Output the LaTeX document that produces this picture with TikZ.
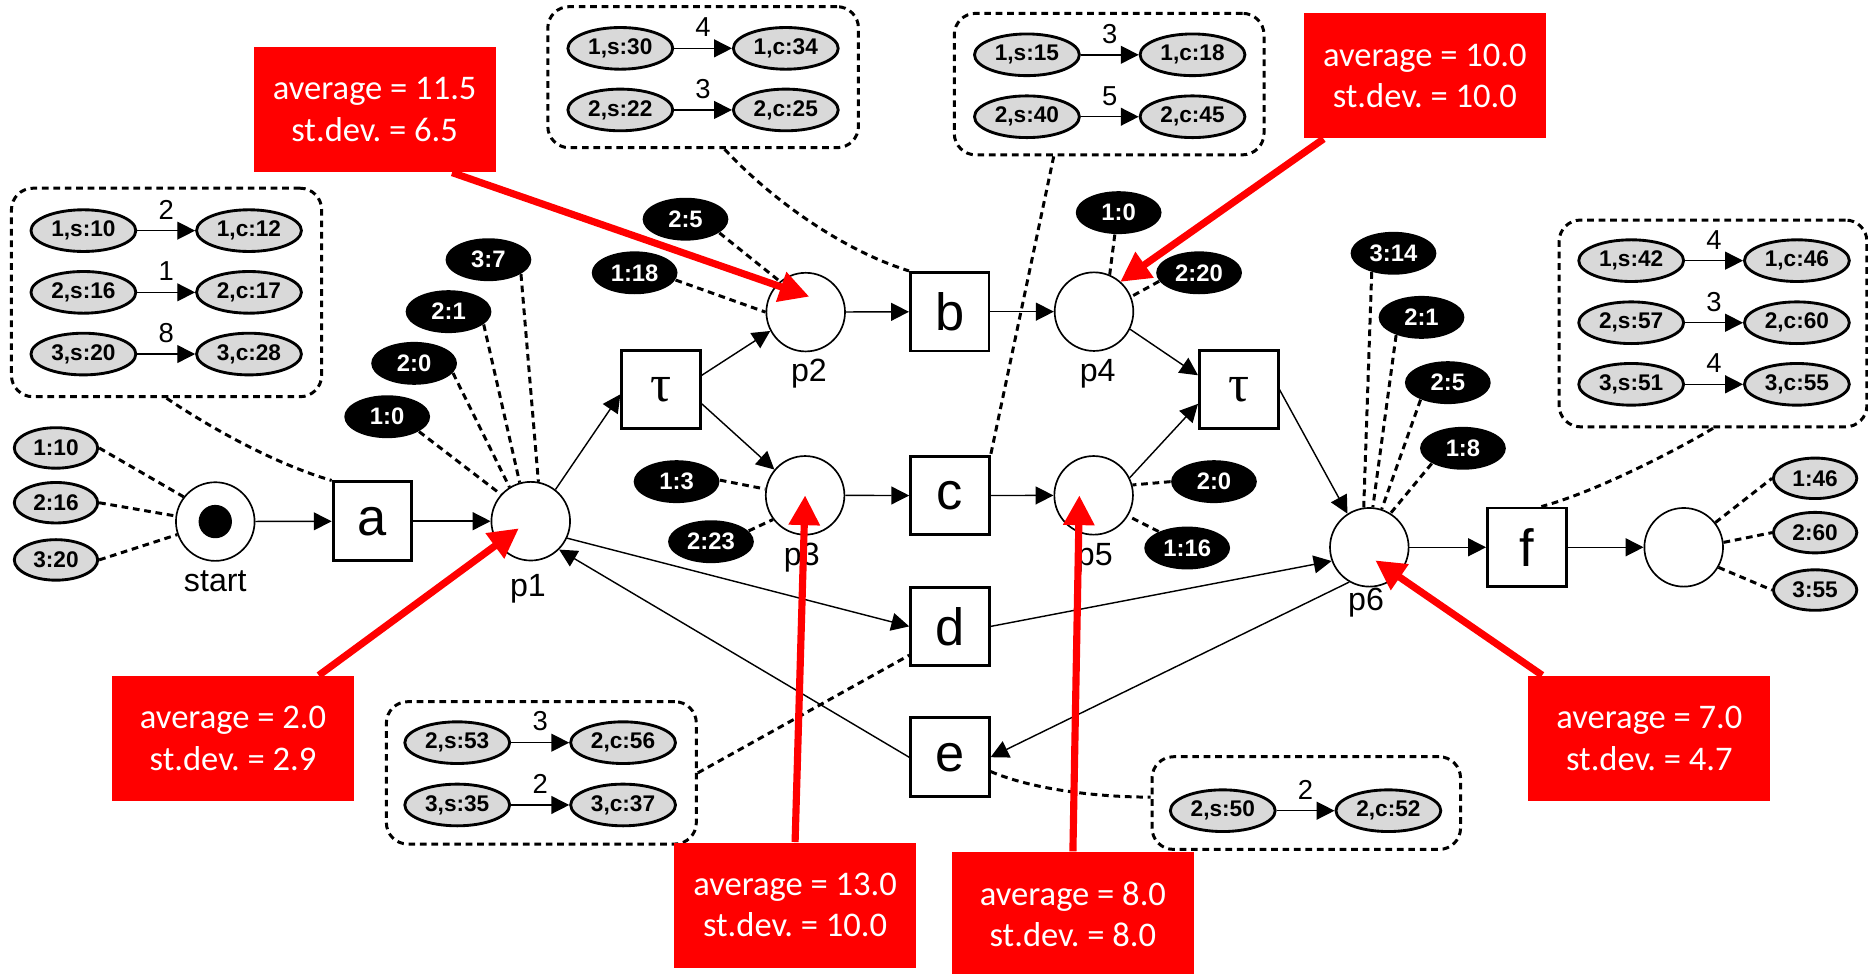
\documentclass[tikz,border=0pt]{standalone}
\usepackage{fontspec}
\setmainfont{Liberation Sans}
\newfontfamily\calibfont{Carlito}
\newfontfamily\greekfont{Liberation Serif}
\usetikzlibrary{arrows.meta, calc, shapes.geometric}

\tikzset{
  pnplace/.style={circle, draw, line width=0.7pt, minimum size=33pt, inner sep=0pt},
  pntrans/.style={rectangle, draw, line width=1.2pt, minimum size=33pt, inner sep=0pt, font=\fontsize{22}{22}\selectfont},
  plabel/.style={inner sep=0pt, font=\fontsize{13.5}{13.5}\selectfont},
  btok/.style={ellipse, fill=black, text=white, minimum width=36pt, minimum height=18pt, inner sep=0pt, font=\bfseries\fontsize{10}{10}\selectfont},
  gtok/.style={ellipse, draw, line width=1.2pt, fill=black!15, minimum width=35pt, minimum height=17pt, inner sep=0pt, font=\bfseries\fontsize{9.5}{9.5}\selectfont},
  evt/.style={gtok, minimum width=44pt, minimum height=17.5pt},
  grp/.style={draw, rounded corners=9pt, line width=1.25pt, dash pattern=on 2.8pt off 2pt},
  tline/.style={line width=1.25pt, dash pattern=on 2.8pt off 2pt},
  flowarc/.style={-{Triangle[length=7.5pt,width=7.5pt]}, line width=0.6pt},
  wlabel/.style={midway, above=4.5pt, inner sep=0pt, font=\fontsize{11.5}{11.5}\selectfont},
  stat/.style={fill=red, text=white, align=center, minimum width=101.5pt, minimum height=52.5pt, inner sep=0pt, font=\calibfont\frenchspacing\fontsize{14.5}{17.5}\selectfont},
  hint/.style={-{Triangle[length=12.5pt,width=12.5pt]}, draw=red, line width=3pt}
}

\begin{document}
\begin{tikzpicture}[x=0.5pt, y=-0.5pt]
  \useasboundingbox (0,0) rectangle (1568,817);
  % Places and transitions
  \node[pnplace] (start) at (180.7,437.8) {};
  \node[circle, fill=black, minimum size=14pt, inner sep=0pt] (startdot) at (start) {};
  \node[pntrans] (a) at (312.6,437.5) {a};
  \node[pnplace] (p1) at (445.5,437.5) {};
  \node[pntrans, font=\greekfont\fontsize{22}{22}\selectfont] (tau1) at (554.9,327) {τ};
  \node[pnplace] (p2) at (676.3,262) {};
  \node[pnplace] (p3) at (675.8,415.8) {};
  \node[pntrans] (b) at (797.2,261.6) {b};
  \node[pntrans] (c) at (797.4,416) {c};
  \node[pntrans] (d) at (797.4,525.8) {d};
  \node[pntrans] (e) at (797.3,635.6) {e};
  \node[pnplace] (p4) at (918.3,261.6) {};
  \node[pnplace] (p5) at (918,415.8) {};
  \node[pntrans, font=\greekfont\fontsize{22}{22}\selectfont] (tau2) at (1039.8,327) {τ};
  \node[pnplace] (p6) at (1149.4,459.4) {};
  \node[pntrans] (f) at (1281.6,459.4) {f};
  \node[pnplace] (pend) at (1413.3,459.4) {};
  % Place names
  \node[plabel] (startl) at (180.7,488) {start};
  \node[plabel] (p1l) at (443.2,494) {p1};
  \node[plabel] (p2l) at (679,314) {p2};
  \node[plabel] (p3l) at (673,468) {p3};
  \node[plabel] (p4l) at (921.4,314) {p4};
  \node[plabel] (p5l) at (919,468) {p5};
  \node[plabel] (p6l) at (1146.7,506) {p6};
  % Arcs
  \draw[flowarc] (start) -- (a);
  \draw[flowarc] (a) -- (p1);
  \draw[flowarc] (p1.52) -- ([yshift=-2pt]tau1.west);
  \draw[flowarc] ([yshift=6pt]tau1.east) -- (p2.208);
  \draw[flowarc] ([yshift=-6pt]tau1.east) -- (p3.140);
  \draw[flowarc] (p2) -- (b);
  \draw[flowarc] (b) -- (p4);
  \draw[flowarc] (p3) -- (c);
  \draw[flowarc] (c) -- (p5);
  \draw[flowarc] (p4.334) -- ([yshift=6pt]tau2.west);
  \draw[flowarc] (p5.26) -- ([yshift=-6pt]tau2.west);
  \draw[flowarc] (tau2.east) -- (p6.123);
  \draw[flowarc] (p1.335) -- (d.west);
  \draw[flowarc] (d.east) -- (p6.200);
  \draw[flowarc] (p6.240) -- (e.east);
  \draw[flowarc] (e.west) -- (p1.315);
  \draw[flowarc] (p6) -- (f);
  \draw[flowarc] (f) -- (pend);
  % Tokens in start and in the end place
  \node[gtok] (g10) at (47,376) {1:10};
  \node[gtok] (g16) at (47,422) {2:16};
  \node[gtok] (g20) at (47,470) {3:20};
  \draw[tline] (g10.east) -- (start.142);
  \draw[tline] (g16.east) -- (start.172);
  \draw[tline] (g20.east) -- (start.199);
  \node[gtok] (g46) at (1523.6,401.5) {1:46};
  \node[gtok] (g60) at (1523.6,447.1) {2:60};
  \node[gtok] (g55) at (1523.6,495.3) {3:55};
  \draw[tline] (pend.38) -- (g46.west);
  \draw[tline] (pend.7) -- (g60.west);
  \draw[tline] (pend.330) -- (g55.west);
  % Tokens on p1 ... p6
  \node[btok] (t1a) at (325,349.8) {1:0};
  \node[btok] (t1b) at (347.6,305) {2:0};
  \node[btok] (t1c) at (376.5,261.6) {2:1};
  \node[btok] (t1d) at (410,218) {3:7};
  \draw[tline] (t1a.335) -- (p1.138);
  \draw[tline] (t1b.346) -- (p1.122);
  \draw[tline] (t1c.340) -- (p1.106);
  \draw[tline] (t1d.336) -- (p1.79);
  \node[btok] (t2a) at (532.7,229) {1:18};
  \node[btok] (t2b) at (575.4,184) {2:5};
  \draw[tline] (t2a.350) -- (p2.180);
  \draw[tline] (t2b.338) -- (p2.130);
  \node[btok] (t3a) at (567.9,404.3) {1:3};
  \node[btok] (t3b) at (596.8,454.7) {2:23};
  \draw[tline] (t3a.2) -- (p3.171);
  \draw[tline] (t3b.16) -- (p3.217);
  \node[btok] (t4a) at (939,178.5) {1:0};
  \node[btok] (t4b) at (1006.5,229) {2:20};
  \draw[tline] (t4a.260) -- (p4.67);
  \draw[tline] (t4b.192) -- (p4.22);
  \node[btok] (t5a) at (1019,404.3) {2:0};
  \node[btok] (t5b) at (996.5,460) {1:16};
  \draw[tline] (t5a.west) -- (p5.15);
  \draw[tline] (t5b.150) -- (p5.329);
  \node[btok] (t6a) at (1169.7,212.6) {3:14};
  \node[btok] (t6b) at (1193.2,266.4) {2:1};
  \node[btok] (t6c) at (1215.3,321.2) {2:5};
  \node[btok] (t6d) at (1228,376.3) {1:8};
  \draw[tline] (t6a.221) -- (p6.98);
  \draw[tline] (t6b.215) -- (p6.85);
  \draw[tline] (t6c.212) -- (p6.72);
  \draw[tline] (t6d.206) -- (p6.58);
  % Event groups of the transitions
  \node[grp, minimum width=130.2pt, minimum height=87.5pt] (gA) at (139.8,245.5) {};
  \foreach \i/\y/\s/\c/\w in {1/193.6/10/12/2, 2/245.4/16/17/1, 3/297.2/20/28/8} {
    \node[evt] (gAs\i) at (70,\y) {\i,s:\s};
    \node[evt] (gAc\i) at (209,\y) {\i,c:\c};
    \draw[flowarc] (gAs\i) -- (gAc\i) node[wlabel] {\w};
  }
  \node[grp, minimum width=130.4pt, minimum height=59.2pt] (gB) at (590.2,64.8) {};
  \foreach \i/\y/\s/\c/\w in {1/40.6/30/34/4, 2/92.3/22/25/3} {
    \node[evt] (gBs\i) at (520.7,\y) {\i,s:\s};
    \node[evt] (gBc\i) at (659.6,\y) {\i,c:\c};
    \draw[flowarc] (gBs\i) -- (gBc\i) node[wlabel] {\w};
  }
  \node[grp, minimum width=130pt, minimum height=59.4pt] (gC) at (931,70.6) {};
  \foreach \i/\y/\s/\c/\w in {1/46/15/18/3, 2/98/40/45/5} {
    \node[evt] (gCs\i) at (862,\y) {\i,s:\s};
    \node[evt] (gCc\i) at (1001,\y) {\i,c:\c};
    \draw[flowarc] (gCs\i) -- (gCc\i) node[wlabel] {\w};
  }
  \node[grp, minimum width=130.1pt, minimum height=59.75pt] (gD) at (454.4,648.75) {};
  \foreach \i/\y/\s/\c/\w in {2/623.4/53/56/3, 3/675.7/35/37/2} {
    \node[evt] (gDs\i) at (383.8,\y) {\i,s:\s};
    \node[evt] (gDc\i) at (523,\y) {\i,c:\c};
    \draw[flowarc] (gDs\i) -- (gDc\i) node[wlabel] {\w};
  }
  \node[grp, minimum width=129.5pt, minimum height=38.9pt] (gE) at (1096.5,674.1) {};
  \node[evt] (gEs2) at (1026.4,680.5) {2,s:50};
  \node[evt] (gEc2) at (1165.4,680.5) {2,c:52};
  \draw[flowarc] (gEs2) -- (gEc2) node[wlabel] {2};
  \node[grp, minimum width=129.2pt, minimum height=86.8pt] (gF) at (1437.9,271.5) {};
  \foreach \i/\y/\s/\c/\w in {1/218.8/42/46/4, 2/270.9/57/60/3, 3/322.6/51/55/4} {
    \node[evt] (gFs\i) at (1369.2,\y) {\i,s:\s};
    \node[evt] (gFc\i) at (1508.3,\y) {\i,c:\c};
    \draw[flowarc] (gFs\i) -- (gFc\i) node[wlabel] {\w};
  }
  % Groups to their transitions
  \draw[tline] (gA.south) .. controls +(40,27) and +(-45,-13) .. (a.north west);
  \draw[tline] ($(gB.south)+(18,0)$) .. controls +(40,43) and +(-55,-17) .. (b.north west);
  \draw[tline] ($(gC.south)+(-46.5,0)$) -- (c.north east);
  \draw[tline] (gD.east) -- ($(d.south west)+(0,-10)$);
  \draw[tline] ($(e.east)+(0,12)$) .. controls +(35,15) and +(-45,0) .. ($(gE.west)+(0,-5)$);
  \draw[tline] (gF.south) .. controls +(-30,18) and +(45,-12) .. ($(f.north east)+(-22,0)$);
  % Statistics
  \node[stat] (r115) at (314.5,92) {average = 11.5\\st.dev. = 6.5};
  \node[stat] (r20) at (195.6,619.8) {average = 2.0\\st.dev. = 2.9};
  \node[stat] (r130) at (667.4,759.7) {average = 13.0\\st.dev. = 10.0};
  \node[stat] (r80) at (900.6,767.5) {average = 8.0\\st.dev. = 8.0};
  \node[stat] (r100) at (1196,63.7) {average = 10.0\\st.dev. = 10.0};
  \node[stat] (r70) at (1384.5,619.7) {average = 7.0\\st.dev. = 4.7};
  \draw[hint] ($(r115.south)+(65,0)$) -- ($(p2)+(3,-13)$);
  \draw[hint] ($(r20.north)+(72,0)$) -- ($(p1)+(-10,6)$);
  \draw[hint] (r130.north) -- (p3.center);
  \draw[hint] (r80.north) -- ($(p5)+(-12,0)$);
  \draw[hint] ($(r100.south)+(-85,0)$) -- ($(p4)+(22,-25)$);
  \draw[hint] ($(r70.north)+(-90,0)$) -- ($(p6)+(5,11)$);
\end{tikzpicture}
\end{document}
